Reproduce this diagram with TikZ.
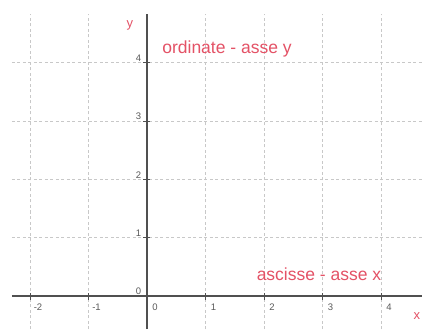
\documentclass[tikz,border=0pt]{standalone}
\usepackage{fontspec}
\setmainfont{Liberation Sans}
\definecolor{labred}{RGB}{228,82,102}
\definecolor{gridgray}{RGB}{200,200,200}
\definecolor{axisgray}{RGB}{80,80,80}
\definecolor{numgray}{RGB}{90,90,90}
\tikzset{
  gridline/.style={gridgray, line width=0.7pt, dash pattern=on 3pt off 2.5pt},
  axisline/.style={axisgray, line width=1.3pt},
  tickmark/.style={axisgray, line width=0.9pt},
  ticklabel/.style={font=\fontsize{9.5}{10}\selectfont, text=numgray, inner sep=0pt},
  redlabel/.style={font=\fontsize{17.5}{19}\selectfont, text=labred, inner sep=0pt, anchor=base},
  axisname/.style={font=\fontsize{13}{14}\selectfont, text=labred, inner sep=0pt, anchor=base}
}
\begin{document}
\begin{tikzpicture}[x=58.5pt,y=58.3pt]
\useasboundingbox[fill=white] (-2.5128,-0.566) rectangle (4.7009,5.0772);
% grid
\foreach \i in {-2,-1,1,2,3,4} \draw[gridline] (\i,-0.566) -- (\i,4.837);
\foreach \j in {1,2,3,4} \draw[gridline] (-2.308,\j) -- (4.7009,\j);
% axes
\coordinate (xl) at (-2.308,0);
\coordinate (xr) at (4.7009,0);
\coordinate (yb) at (0,-0.566);
\coordinate (yt) at (0,4.837);
\draw[axisline] (xl) -- (xr);
\draw[axisline] (yb) -- (yt);
% ticks
\foreach \i in {-2,-1,1,2,3,4} \draw[tickmark] (\i,-0.06) -- (\i,0.05);
\foreach \j in {1,2,3,4} \draw[tickmark] (-0.06,\j) -- (0.05,\j);
% tick labels
\foreach \i/\t in {-2/{-2},-1/{-1},0/0,1/1,2/2,3/3,4/4}
  \node[ticklabel] (xt\i) at (\i+0.137,-0.19) {\t};
\foreach \j in {0,1,2,3,4}
  \node[ticklabel] (yl\j) at (-0.145,\j+0.08) {\j};
% axis names
\node[axisname] (ylab) at (-0.291,4.614) {y};
\node[axisname] (xlab) at (4.615,-0.395) {x};
% red labels
\node[redlabel] (ord) at (1.368,4.168) {ordinate - asse y};
\node[redlabel] (asc) at (2.940,0.274) {ascisse - asse x};
\end{tikzpicture}
\end{document}
